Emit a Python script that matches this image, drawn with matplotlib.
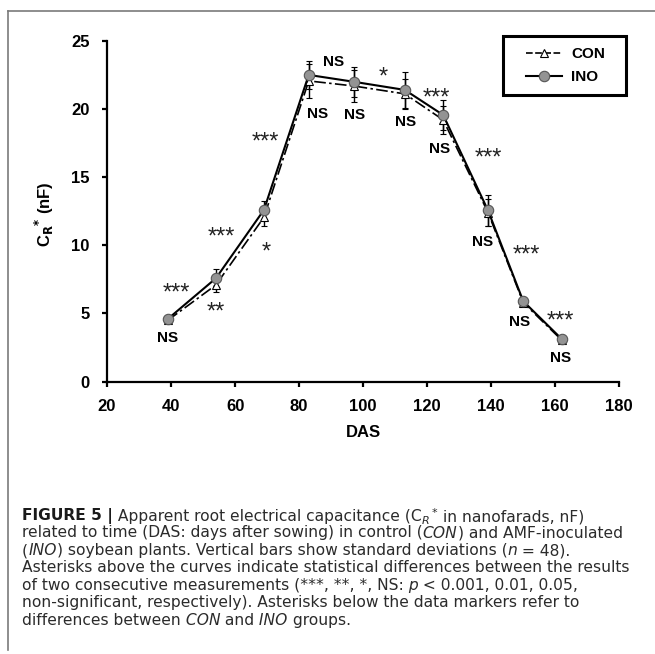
import matplotlib
matplotlib.use('Agg')
import matplotlib.pyplot as plt
from matplotlib.lines import Line2D
from matplotlib.patches import Rectangle
from matplotlib.text import Annotation

# data
das = [39, 54, 69, 83, 97, 113, 125, 139, 150, 162]
ino = [4.6, 7.58, 12.59, 22.49, 21.99, 21.39, 19.55, 12.55, 5.9, 3.13]
con = [4.5, 7.09, 12.05, 22.05, 21.68, 21.1, 19.19, 12.4, 5.8, 3.05]
ino_sd = [0.2, 0.66, 0.66, 1.04, 1.1, 1.34, 1.1, 1.14, 0.2, 0.2]
con_sd = [0.2, 0.49, 0.64, 1.26, 1.18, 1.1, 1.03, 0.96, 0.2, 0.2]

# significance between consecutive measurements (above curves)
above_x = [41.8, 55.8, 69.4, 90.6, 106.2, 123.0, 139.2, 150.9, 161.6]
above_y = [6.96, 11.07, 18.09, 23.58, 22.8, 21.26, 16.86, 9.78, 4.96]
above_txt = ['***', '***', '***', 'NS', '*', '***', '***', '***', '***']

# CON vs INO (below markers)
below_x = [39.0, 54.1, 69.6, 85.8, 97.2, 113.1, 123.75, 137.3, 148.8, 161.8]
below_y = [3.3, 5.57, 10.02, 19.72, 19.63, 19.14, 17.18, 10.32, 4.52, 1.83]
below_txt = ['NS', '**', '*', 'NS', 'NS', 'NS', 'NS', 'NS', 'NS', 'NS']

# caption lines as (text, style) pieces: n normal, i italic, b bold, sub, sup
caption = [
    [('FIGURE 5 |', 'b'), (' Apparent root electrical capacitance (C', 'n'), ('R', 'sub'),
     ('*', 'sup'), (' in nanofarads, nF)', 'n')],
    [('related to time (DAS: days after sowing) in control (', 'n'), ('CON', 'i'),
     (') and AMF-inoculated', 'n')],
    [('(', 'n'), ('INO', 'i'), (') soybean plants. Vertical bars show standard deviations (', 'n'),
     ('n', 'i'), (' = 48).', 'n')],
    [('Asterisks above the curves indicate statistical differences between the results', 'n')],
    [('of two consecutive measurements (***, **, *, NS:', 'n'), (' p', 'i'),
     (' < 0.001, 0.01, 0.05,', 'n')],
    [('non-significant, respectively). Asterisks below the data markers refer to', 'n')],
    [('differences between', 'n'), (' CON', 'i'), (' and', 'n'), (' INO', 'i'), (' groups.', 'n')],
]

plt.rcParams['font.family'] = ['Liberation Sans', 'DejaVu Sans']
plt.rcParams['mathtext.fontset'] = 'dejavusans'

fig = plt.figure(figsize=(6.55, 6.54), dpi=100)
ax = fig.add_axes([0.1634, 0.4164, 0.7821, 0.5214])

ax.errorbar(das, con, yerr=con_sd, color='black', linestyle=(0, (7, 2, 1.5, 2)),
            linewidth=1.2, marker='^', markersize=6, markerfacecolor='white',
            markeredgecolor='black', markeredgewidth=0.8, capsize=2.5,
            capthick=1.2, elinewidth=1.0)
ax.errorbar(das, ino, yerr=ino_sd, color='black', linestyle='-', linewidth=1.5,
            marker='o', markersize=7.5, markerfacecolor='#939393',
            markeredgecolor='#555555', markeredgewidth=0.8, capsize=2.5,
            capthick=1.2, elinewidth=1.0)

for x, y, t in zip(above_x + below_x, above_y + below_y, above_txt + below_txt):
    if t == 'NS':
        ax.annotate(t, (x, y), xytext=(0, -4), textcoords='offset points',
                    ha='center', va='baseline', fontsize=11, fontweight='bold')
    else:
        ax.annotate(t, (x, y), xytext=(0, -9.5), textcoords='offset points',
                    ha='center', va='baseline', fontsize=17, color='#222222')

ax.set_xlim(20, 180)
ax.set_ylim(0, 25)
ax.set_xticks(range(20, 181, 20))
ax.set_yticks(range(0, 26, 5))
for s in ['top', 'right']:
    ax.spines[s].set_visible(False)
for s in ['left', 'bottom']:
    ax.spines[s].set_linewidth(1.6)
ax.tick_params(direction='out', length=3.5, width=1.6, pad=9, labelsize=12)
for lab in ax.get_xticklabels() + ax.get_yticklabels():
    lab.set_fontweight('bold')

ax.set_xlabel('DAS', fontsize=12, fontweight='bold')
ax.xaxis.set_label_coords(0.5, -0.128)
ax.set_ylabel(r'C$_{\mathbf{R}}$$^{\mathbf{*}}$ (nF)', fontsize=12, fontweight='bold')
ax.yaxis.set_label_coords(-0.1, 0.49)

# legend: box drawn separately, entries centred inside it
bx0, by0, bx1, by1 = 503 / 655, 1 - 95 / 654, 626 / 655, 1 - 36 / 654
fig.add_artist(Rectangle((bx0, by0), bx1 - bx0, by1 - by0, transform=fig.transFigure,
                         facecolor='white', edgecolor='black', linewidth=2.2))
handles = [
    Line2D([], [], color='black', linestyle=(0, (4, 1.5)), linewidth=1.2, marker='^',
           markersize=6, markerfacecolor='white', markeredgecolor='black',
           markeredgewidth=0.8),
    Line2D([], [], color='black', linestyle='-', linewidth=1.5, marker='o',
           markersize=7.5, markerfacecolor='#939393', markeredgecolor='#555555',
           markeredgewidth=0.8),
]
fig.legend(handles, ['CON', 'INO'], loc='center',
           bbox_to_anchor=((bx0 + bx1) / 2 + 0.002, (by0 + by1) / 2),
           frameon=False, handlelength=2.35, handletextpad=0.6, labelspacing=0.6,
           borderpad=0, prop={'weight': 'bold', 'size': 11})

# figure frame
fig.add_artist(Line2D([8 / 655, 8 / 655], [1 - 11 / 654, 1 - 650 / 654],
                      color='#7a7a7a', linewidth=1.2))
fig.add_artist(Line2D([8 / 655, 1], [1 - 11 / 654, 1 - 11 / 654],
                      color='#7a7a7a', linewidth=1.2))

# caption: each line starts with a fig.text, later pieces are chained to it
cap_size = 11.2
cap_col = '#2b2b2b'
for i, pieces in enumerate(caption):
    first = None
    prev = None
    for txt, st in pieces:
        kw = dict(fontsize=cap_size, color=cap_col, family='DejaVu Sans')
        off = (0, 0)
        if st == 'b':
            kw.update(fontweight='bold', color='#1a1a1a')
        elif st == 'i':
            kw.update(style='italic')
        elif st == 'sub':
            kw.update(style='italic', fontsize=8)
            off = (0.3, -1.2)
        elif st == 'sup':
            kw.update(fontsize=8)
            off = (1.5, 4.5)
        if first is None:
            first = fig.text(22 / 655, 1 - (520 + 17.5 * i) / 654, txt, ha='left',
                             va='baseline', **kw)
            prev = first
        else:
            prev = fig.add_artist(Annotation(txt, (1, 0), xycoords=(prev, first),
                                             xytext=off, textcoords='offset points',
                                             ha='left', va='bottom', **kw))

fig.savefig('out.png', dpi=100)
